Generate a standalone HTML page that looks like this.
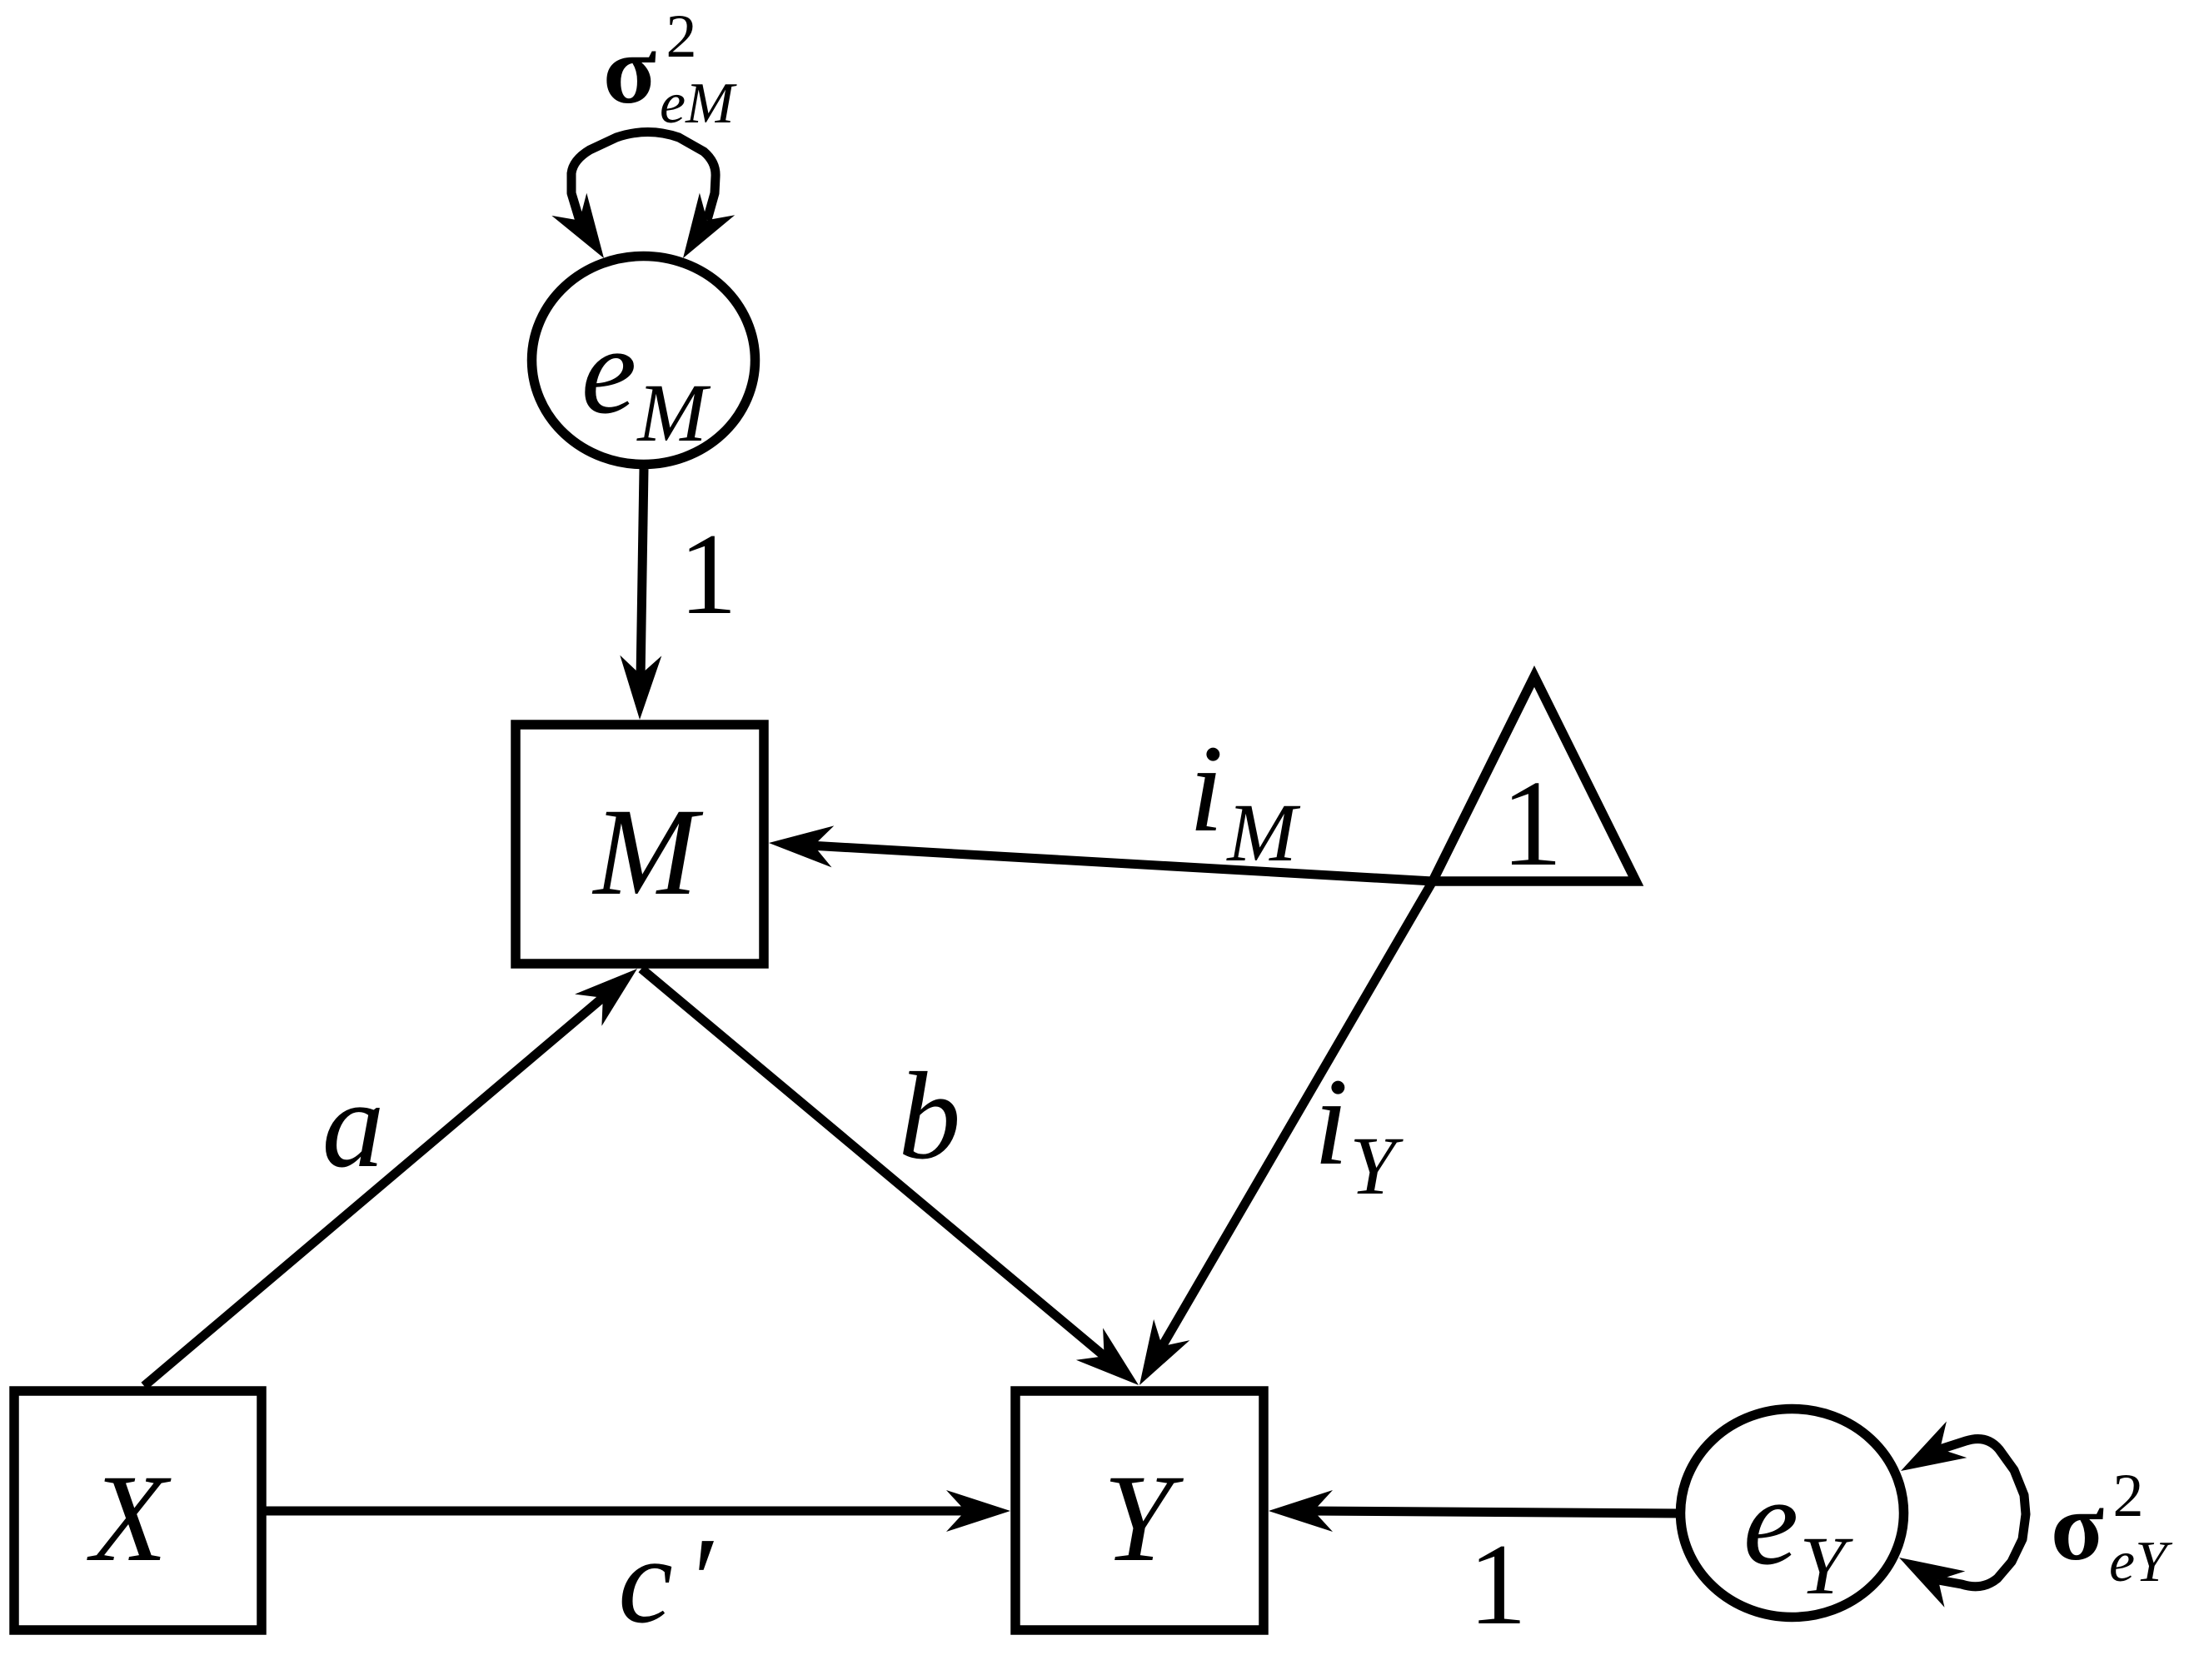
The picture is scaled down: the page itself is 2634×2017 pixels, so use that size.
<!DOCTYPE html>
<html>
<head>
<meta charset="utf-8">
<style>
  html, body { margin: 0; padding: 0; background: #fff; }
  svg { display: block; }
  text { font-family: "Liberation Serif", "Times New Roman", Times, serif; fill: #000; }
  .it { font-style: italic; }
</style>
</head>
<body>
<svg width="2634" height="2017" viewBox="0 0 2634 2017" xmlns="http://www.w3.org/2000/svg">
  <rect x="0" y="0" width="2634" height="2017" fill="#fff"/>

  <g fill="none" stroke="#000" stroke-width="11.5">
    <rect x="619" y="870" width="298" height="287"/>
    <rect x="1219" y="1670" width="298" height="287"/>
    <rect x="17" y="1670" width="297" height="287"/>
    <ellipse cx="772.5" cy="432.5" rx="134" ry="125"/>
    <ellipse cx="2151.5" cy="1816.5" rx="134" ry="125"/>
    <polygon points="1842,812 1720,1058 1964,1058" stroke-linejoin="miter"/>
  </g>

  <g fill="none" stroke="#000" stroke-width="11">
    <line x1="773" y1="563" x2="769" y2="815"/>
    <line x1="173" y1="1664" x2="727" y2="1195"/>
    <line x1="770" y1="1163" x2="1328" y2="1630"/>
    <line x1="1720" y1="1058" x2="1393" y2="1620"/>
    <line x1="1720" y1="1058" x2="972" y2="1015"/>
    <line x1="314" y1="1814" x2="1163" y2="1814"/>
    <line x1="2018" y1="1817" x2="1573" y2="1814"/>
    <path d="M 696 265 L 686 232 L 686 208 Q 688 192 708 180 L 740 165 Q 778 152 815 165 L 845 182 Q 860 195 859 212 L 858 232 L 849 264" stroke-linejoin="round"/>
    <path d="M 2329 1740 L 2360 1730 Q 2385 1722 2400 1740 L 2418 1765 L 2430 1795 L 2432 1818 L 2428 1848 L 2415 1875 L 2398 1895 Q 2380 1910 2355 1902 L 2327 1897" stroke-linejoin="round"/>
  </g>

  <g fill="#000" stroke="none">
    <polygon points="768,864 744.3,786.6 768.9,810 794.3,787.4"/>
    <polygon points="765,1163 722.4,1231.8 723.8,1197.9 690.1,1193.6"/>
    <polygon points="1367,1663 1291.9,1632.7 1325.6,1628.3 1324.1,1594.4"/>
    <polygon points="1368,1663 1428.3,1609.1 1395.2,1616.3 1385.1,1583.9"/>
    <polygon points="923,1012 1001.3,991.4 976.9,1015.1 998.5,1041.4"/>
    <polygon points="1213,1814 1136,1789 1159,1814 1136,1839"/>
    <polygon points="1523,1814 1600,1789 1577,1814 1600,1839"/>
    <polygon points="725,310 662.3,258.9 695.7,264.6 704.3,231.8"/>
    <polygon points="820,310 839.9,231.6 848.8,264.3 882.2,258.2"/>
    <polygon points="2282,1766 2336.9,1706.5 2329.1,1739.6 2361.3,1750.1"/>
    <polygon points="2280,1870 2359.3,1886.4 2326.9,1896.7 2334.5,1929.8"/>
  </g>

  <g font-family="'Liberation Serif', 'Times New Roman', Times, serif" fill="#000">
    <text class="it" font-style="italic" x="775" y="1073" font-size="150" text-anchor="middle">M</text>
    <text class="it" font-style="italic" x="1366" y="1873" font-size="150" text-anchor="middle">Y</text>
    <text class="it" font-style="italic" x="155" y="1873" font-size="150" text-anchor="middle">X</text>

    <text class="it" font-style="italic" x="731" y="495" font-size="150" text-anchor="middle">e</text>
    <text class="it" font-style="italic" x="807" y="529" font-size="100" text-anchor="middle">M</text>

    <text class="it" font-style="italic" x="2126" y="1877" font-size="150" text-anchor="middle">e</text>
    <text class="it" font-style="italic" x="2188" y="1913" font-size="100" text-anchor="middle">Y</text>

    <text x="1839" y="1038" font-size="148" text-anchor="middle">1</text>

    <text class="it" font-style="italic" x="1448" y="997" font-size="150" text-anchor="middle">i</text>
    <text class="it" font-style="italic" x="1515" y="1033" font-size="100" text-anchor="middle">M</text>

    <text class="it" font-style="italic" x="1598" y="1397" font-size="150" text-anchor="middle">i</text>
    <text class="it" font-style="italic" x="1648" y="1433" font-size="100" text-anchor="middle">Y</text>

    <text class="it" font-style="italic" x="424" y="1400" font-size="150" text-anchor="middle">a</text>
    <text class="it" font-style="italic" x="1116" y="1390" font-size="150" text-anchor="middle">b</text>

    <text class="it" font-style="italic" x="775" y="1947" font-size="148" text-anchor="middle">c</text>
    <text class="it" font-style="italic" x="839" y="1947" font-size="148" text-anchor="middle">′</text>

    <text x="1798" y="1949" font-size="140" text-anchor="middle">1</text>
    <text x="850" y="736" font-size="140" text-anchor="middle">1</text>

    <text x="756" y="123" font-size="118" font-weight="bold" text-anchor="middle">σ</text>
    <text x="818" y="68" font-size="74" text-anchor="middle">2</text>
    <text class="it" font-style="italic" x="792" y="147" font-size="70">eM</text>

    <text x="2494" y="1872" font-size="118" font-weight="bold" text-anchor="middle">σ</text>
    <text x="2555" y="1820" font-size="74" text-anchor="middle">2</text>
    <text class="it" font-style="italic" x="2532" y="1898" font-size="70">eY</text>
  </g>
</svg>
</body>
</html>
